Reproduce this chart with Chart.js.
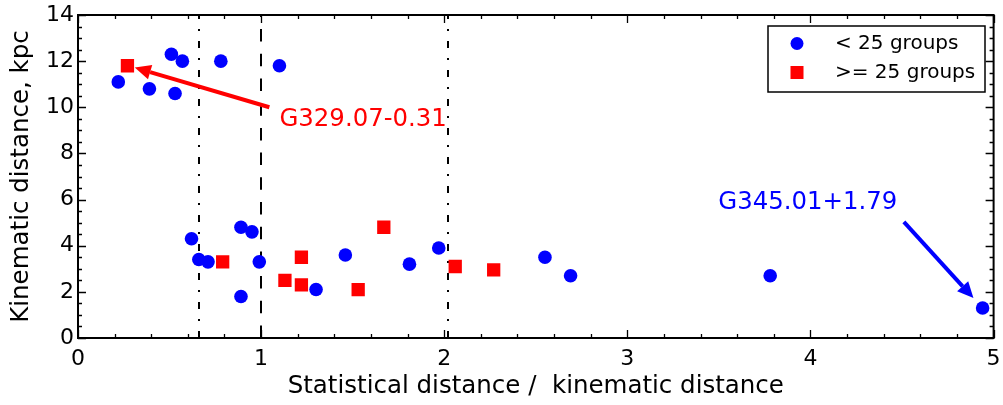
<!DOCTYPE html>
<html>
<head>
<meta charset="utf-8">
<script src="https://cdn.jsdelivr.net/npm/chart.js@4"></script>
<style>
  body { margin: 0; background: #fff; }
  canvas { display: block; }
</style>
</head>
<body>
<canvas id="chart" width="1003" height="405"></canvas>
<script>
// < 25 groups (blue circles)
const smallX = [0.22, 0.39, 0.53, 0.51, 0.57, 0.78, 1.10, 0.62, 0.66, 0.71, 0.89, 0.95, 0.99, 0.89, 1.30, 1.46, 1.81, 1.97, 2.55, 2.69, 3.78, 4.94];
const smallY = [11.1, 10.8, 10.6, 12.3, 12.0, 12.0, 11.8, 4.3, 3.4, 3.3, 4.8, 4.6, 3.3, 1.8, 2.1, 3.6, 3.2, 3.9, 3.5, 2.7, 2.7, 1.3];
// >= 25 groups (red squares)
const largeX = [0.27, 0.79, 1.13, 1.22, 1.22, 1.53, 1.67, 2.06, 2.27];
const largeY = [11.8, 3.3, 2.5, 3.5, 2.3, 2.1, 4.8, 3.1, 2.95];

const seriesNames = ["< 25 groups", ">= 25 groups"];
const dashedX = [1];
const dashDotX = [0.66, 2.02];

const FONT = "'DejaVu Sans', sans-serif";

// draws the vertical lines, inside ticks, frame, arrows and legend
const decorPlugin = {
    id: "decor",
    beforeDatasetsDraw(chart) {
        const { ctx, chartArea: a, scales } = chart;
        ctx.save();
        ctx.strokeStyle = "#000";
        ctx.lineWidth = 2;
        ctx.setLineDash([12.5, 12.2]);
        dashedX.forEach((v) => {
            const x = Math.round(scales.x.getPixelForValue(v));
            ctx.beginPath();
            ctx.moveTo(x, a.bottom);
            ctx.lineTo(x, a.top);
            ctx.stroke();
        });
        ctx.setLineDash([7, 10, 2, 10]);
        dashDotX.forEach((v) => {
            const x = Math.round(scales.x.getPixelForValue(v));
            ctx.beginPath();
            ctx.moveTo(x, a.bottom);
            ctx.lineTo(x, a.top);
            ctx.stroke();
        });
        ctx.restore();
    },
    afterDraw(chart) {
        const { ctx, chartArea: a, scales } = chart;
        const xs = scales.x, ys = scales.y;
        ctx.save();

        // frame
        ctx.strokeStyle = "#000";
        ctx.lineWidth = 2;
        ctx.strokeRect(a.left, a.top, a.right - a.left, a.bottom - a.top);

        // inside ticks, on all four sides
        ctx.lineWidth = 1.3;
        ctx.beginPath();
        for (let i = 0; i <= 25; i++) {
            const v = i * 0.2;
            const x = Math.round(xs.getPixelForValue(v)) + 0.5;
            const len = i % 5 === 0 ? 8 : 4;
            ctx.moveTo(x, a.bottom);
            ctx.lineTo(x, a.bottom - len);
            ctx.moveTo(x, a.top);
            ctx.lineTo(x, a.top + len);
        }
        for (let i = 0; i <= 28; i++) {
            const v = i * 0.5;
            const y = Math.round(ys.getPixelForValue(v)) + 0.5;
            const len = i % 4 === 0 ? 8 : 4;
            ctx.moveTo(a.left, y);
            ctx.lineTo(a.left + len, y);
            ctx.moveTo(a.right, y);
            ctx.lineTo(a.right - len, y);
        }
        ctx.stroke();

        // annotations with arrows
        const arrow = (x1, y1, x2, y2, color) => {
            const p1 = [xs.getPixelForValue(x1), ys.getPixelForValue(y1)];
            const p2 = [xs.getPixelForValue(x2), ys.getPixelForValue(y2)];
            const ang = Math.atan2(p2[1] - p1[1], p2[0] - p1[0]);
            const hl = 16, hw = 7.5;
            const bx = p2[0] - hl * Math.cos(ang), by = p2[1] - hl * Math.sin(ang);
            ctx.strokeStyle = color;
            ctx.fillStyle = color;
            ctx.lineWidth = 4;
            ctx.beginPath();
            ctx.moveTo(p1[0], p1[1]);
            ctx.lineTo(bx, by);
            ctx.stroke();
            ctx.beginPath();
            ctx.moveTo(p2[0], p2[1]);
            ctx.lineTo(bx + hw * Math.sin(ang), by - hw * Math.cos(ang));
            ctx.lineTo(bx - hw * Math.sin(ang), by + hw * Math.cos(ang));
            ctx.closePath();
            ctx.fill();
        };
        arrow(1.045, 10.0, 0.31, 11.72, "#ff0000");
        arrow(4.51, 5.03, 4.89, 1.73, "#0000ff");

        ctx.font = "24.4px " + FONT;
        ctx.textBaseline = "middle";
        ctx.textAlign = "left";
        ctx.fillStyle = "#ff0000";
        ctx.fillText("G329.07-0.31", xs.getPixelForValue(1.1), ys.getPixelForValue(9.45));
        ctx.fillStyle = "#0000ff";
        ctx.fillText("G345.01+1.79", xs.getPixelForValue(3.497), ys.getPixelForValue(5.85));

        // legend
        const lx = 768, ly = 26, lw = 217, lh = 66;
        ctx.fillStyle = "#fff";
        ctx.fillRect(lx, ly, lw, lh);
        ctx.strokeStyle = "#000";
        ctx.lineWidth = 1.5;
        ctx.strokeRect(lx, ly, lw, lh);
        ctx.fillStyle = "#0000ff";
        ctx.beginPath();
        ctx.arc(797, 43.5, 6.5, 0, Math.PI * 2);
        ctx.fill();
        ctx.fillStyle = "#ff0000";
        ctx.fillRect(790.5, 66, 13, 13);
        ctx.fillStyle = "#000";
        ctx.font = "20px " + FONT;
        ctx.fillText(seriesNames[0], 835, 44);
        ctx.fillText(seriesNames[1], 835, 73);
        ctx.restore();
    },
};

new Chart(document.getElementById("chart"), {
    type: "scatter",
    data: {
        datasets: [
            {
                label: seriesNames[0],
                data: smallX.map((x, i) => ({ x: x, y: smallY[i] })),
                pointStyle: "circle",
                pointRadius: 6.8,
                backgroundColor: "#0000ff",
                borderWidth: 0,
            },
            {
                label: seriesNames[1],
                data: largeX.map((x, i) => ({ x: x, y: largeY[i] })),
                pointStyle: "rect",
                pointRadius: 9.4,
                backgroundColor: "#ff0000",
                borderWidth: 0,
            },
        ],
    },
    options: {
        responsive: false,
        animation: false,
        events: [],
        layout: { padding: { top: 15, right: 7, left: 0, bottom: 0 } },
        plugins: { legend: { display: false }, tooltip: { enabled: false } },
        scales: {
            x: {
                type: "linear",
                min: 0,
                max: 5,
                grid: { display: false, drawTicks: false },
                border: { display: false },
                ticks: {
                    stepSize: 1,
                    maxRotation: 0,
                    padding: 8,
                    color: "#000",
                    font: { family: FONT, size: 22 },
                },
                title: {
                    display: true,
                    text: "Statistical distance /  kinematic distance",
                    color: "#000",
                    font: { family: FONT, size: 24.5 },
                    padding: { top: 0, bottom: 4 },
                },
                afterFit(scale) {
                    scale.height = 67;
                    scale.paddingLeft = 0;
                    scale.paddingRight = 0;
                },
            },
            y: {
                type: "linear",
                min: 0,
                max: 14,
                grid: { display: false, drawTicks: false },
                border: { display: false },
                ticks: {
                    stepSize: 2,
                    padding: 4,
                    color: "#000",
                    font: { family: FONT, size: 22 },
                },
                title: {
                    display: true,
                    text: "Kinematic distance, kpc",
                    color: "#000",
                    font: { family: FONT, size: 24.5 },
                    padding: { top: 7, bottom: 0 },
                },
                afterFit(scale) {
                    scale.width = 78;
                    scale.paddingTop = 0;
                    scale.paddingBottom = 0;
                },
            },
        },
    },
    plugins: [decorPlugin],
});
</script>
</body>
</html>
